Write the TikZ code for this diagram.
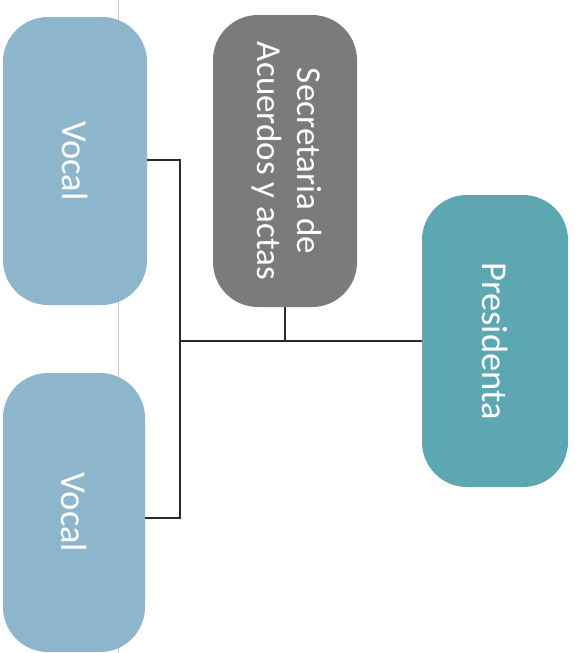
\documentclass[tikz,border=0pt]{standalone}
\usepackage{fontspec}
\setmainfont{Carlito}
\usepackage{graphicx}
\definecolor{vocalc}{HTML}{8DB6CC}
\definecolor{secc}{HTML}{7B7B7B}
\definecolor{presc}{HTML}{5CA7B1}
\definecolor{linec}{HTML}{2B2B2B}
\begin{document}
\begin{tikzpicture}[x=1pt,y=1pt,
  pill/.style={rectangle, rounded corners=45pt, inner sep=0pt, text=white,
    font=\fontsize{35}{40}\selectfont},
  bigtext/.style={font=\fontsize{36.5}{40}\selectfont},
  conn/.style={draw=linec, line width=1.6pt},
  scanline/.style={draw=black!35, line width=0.9pt, opacity=0.6}]
\useasboundingbox (0,0) rectangle (574,-653);
\fill[white] (0,0) rectangle (574,-653);
\node[pill, bigtext, fill=vocalc, minimum width=144pt, minimum height=288pt] (v1) at (75,-161) {\rotatebox{-90}{Vocal}};
\node[pill, bigtext, fill=vocalc, minimum width=142pt, minimum height=279pt] (v2) at (74,-512.5) {\rotatebox{-90}{Vocal}};
\node[pill, fill=secc, minimum width=144pt, minimum height=292pt] (s) at (285,-161) {\rotatebox{-90}{\begin{tabular}{@{}c@{}}Secretaria de\\Acuerdos y actas\end{tabular}}};
\node[pill, bigtext, fill=presc, minimum width=146pt, minimum height=292pt] (p) at (495,-341) {\rotatebox{-90}{Presidenta}};
\coordinate (jt) at (180,-160);
\coordinate (jm) at (180,-341);
\coordinate (jb) at (180,-518);
\coordinate (js) at (285,-341);
\draw[conn] (v1.east |- jt) -- (jt) -- (jb) -- (v2.east |- jb);
\draw[conn] (jm) -- (p.west);
\draw[conn] (s.south) -- (js);
\coordinate (st) at (118,0);
\coordinate (sb) at (118,-653);
\draw[scanline] (st) -- (sb);
\end{tikzpicture}
\end{document}
